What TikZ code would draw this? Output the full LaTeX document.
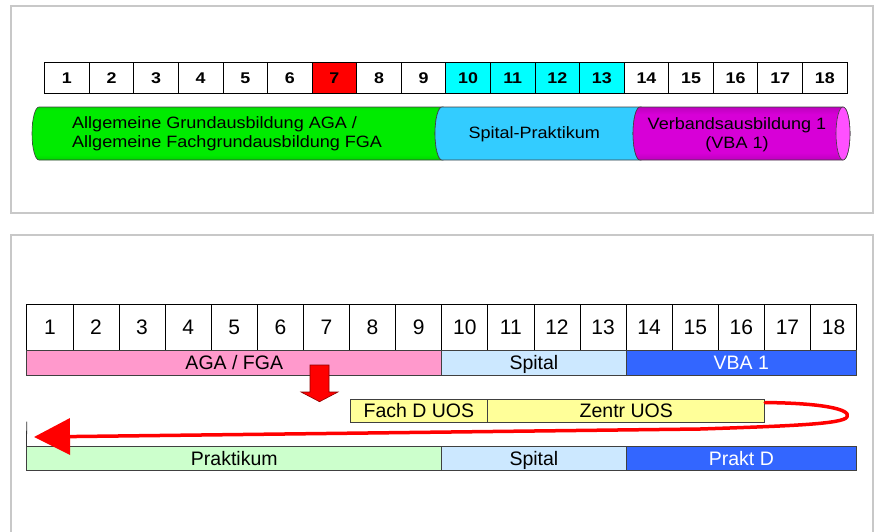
\documentclass[tikz,border=0pt]{standalone}
\usepackage{fontspec}
\setmainfont{Liberation Sans}
\newfontfamily\topnumfont[FakeStretch=1.15]{Liberation Sans}
\newfontfamily\cylfont[FakeStretch=1.1]{Liberation Sans}
\usetikzlibrary{arrows.meta}
\definecolor{panelgray}{RGB}{200,200,200}
\definecolor{cellcyan}{RGB}{0,255,255}
\definecolor{cellred}{RGB}{255,0,0}
\definecolor{cylgreen}{RGB}{0,235,0}
\definecolor{cylgreendark}{RGB}{0,90,0}
\definecolor{cylcyan}{RGB}{51,204,255}
\definecolor{cylmag}{RGB}{215,0,215}
\definecolor{cylmagdark}{RGB}{100,0,100}
\definecolor{cylmagface}{RGB}{255,80,255}
\definecolor{barpink}{RGB}{255,153,204}
\definecolor{barlightblue}{RGB}{204,232,255}
\definecolor{barblue}{RGB}{51,102,255}
\definecolor{barlightgreen}{RGB}{204,255,204}
\definecolor{baryellow}{RGB}{255,255,153}
\definecolor{arrowred}{RGB}{255,0,0}
\pgfdeclareverticalshading{greencyl}{100bp}{color(0bp)=(cylgreendark); color(30bp)=(cylgreen);
  color(72bp)=(cylgreen); color(100bp)=(cylgreendark)}
\pgfdeclareverticalshading{magcyl}{100bp}{color(0bp)=(cylmagdark); color(32bp)=(cylmag);
  color(68bp)=(cylmag); color(100bp)=(cylmagdark)}
\tikzset{
  panel/.style={draw=panelgray, line width=2pt},
  topcell/.style={draw=black, line width=0.8pt, minimum width=44.58pt, minimum height=31pt,
    inner sep=0pt, text height=11pt, text depth=0pt,
    font=\topnumfont\bfseries\fontsize{15.5}{15.5}\selectfont},
  botcell/.style={draw=black, line width=0.8pt, fill=white, minimum width=46.1pt, minimum height=46.7pt,
    inner sep=0pt, text height=15pt, text depth=0pt, font=\fontsize{21}{21}\selectfont},
  bar/.style={draw=black!75, line width=0.8pt, minimum height=24.3pt,
    inner sep=0pt, text height=14pt, text depth=0pt, font=\fontsize{19.5}{19.5}\selectfont},
  cylseg/.style={draw=black!75, line width=0.6pt},
  cyltext/.style={inner sep=0pt, font=\cylfont\fontsize{16.4}{19}\selectfont},
  bigred/.style={draw=arrowred, line width=3.5pt, line cap=round, line join=round,
    -{Triangle[length=36pt,width=36pt]}},
  blockarrow/.style={fill=arrowred, draw=red!55!black, line width=0.6pt, line join=miter}
}
\begin{document}
\begin{tikzpicture}[x=1pt,y=1pt]
\useasboundingbox (0,0) rectangle (874,-531);
% panels
\draw[panel] (10.5,-5.5) rectangle (872.5,-212.5);
\draw[panel] (10.5,-533) -- (10.5,-235) -- (872.5,-235) -- (872.5,-533);

% top number row
\foreach \i/\c in {1/white,2/white,3/white,4/white,5/white,6/white,7/cellred,8/white,9/white,
  10/cellcyan,11/cellcyan,12/cellcyan,13/cellcyan,14/white,15/white,16/white,17/white,18/white}{
  \node[topcell, fill=\c] (t\i) at ({44.6+44.58*(\i-0.5)},-77.8) {\i};
}

% cylinder
\shadedraw[cylseg, shading=greencyl]
  (39,-107) arc[start angle=90,end angle=270,x radius=7pt,y radius=26.5pt]
  -- (442,-160) arc[start angle=270,end angle=90,x radius=7pt,y radius=26.5pt] -- cycle;
\filldraw[cylseg, fill=cylcyan]
  (442,-107) arc[start angle=90,end angle=270,x radius=7pt,y radius=26.5pt]
  -- (640,-160) arc[start angle=270,end angle=90,x radius=7pt,y radius=26.5pt] -- cycle;
\shadedraw[cylseg, shading=magcyl]
  (640,-107) arc[start angle=90,end angle=270,x radius=7pt,y radius=26.5pt]
  -- (843,-160) arc[start angle=270,end angle=450,x radius=7pt,y radius=26.5pt] -- cycle;
\filldraw[cylseg, fill=cylmagface] (843,-133.5) ellipse[x radius=7pt,y radius=26.5pt];

\node[cyltext, align=left, anchor=west] (aga) at (72,-133.5)
  {Allgemeine Grundausbildung AGA /\\Allgemeine Fachgrundausbildung FGA};
\node[cyltext, anchor=base] (spp) at (534.2,-138) {Spital-Praktikum};
\node[cyltext, align=center] (vba) at (737,-134.5) {Verbandsausbildung 1\\(VBA 1)};

% bottom number row
\foreach \i in {1,...,18}{
  \node[botcell] (b\i) at ({26.8+46.1*(\i-0.5)},-327.4) {\i};
}

% bars row 1
\node[bar, fill=barpink, minimum width=414.9pt] (bagaf) at (234.25,-362.85) {AGA / FGA};
\node[bar, fill=barlightblue, minimum width=184.4pt] (bspit) at (533.9,-362.85) {Spital};
\node[bar, fill=barblue, text=white, minimum width=230.5pt] (bvba) at (741.35,-362.85) {VBA 1};

% red block arrow
\filldraw[blockarrow] (310,-365) -- (329,-365) -- (329,-392) -- (338,-392) -- (319.5,-401.7)
  -- (301,-392) -- (310,-392) -- cycle;

% UOS boxes
\node[bar, fill=baryellow, minimum width=137.7pt, minimum height=23.7pt] (fach) at (418.85,-410.85) {Fach D UOS};
\node[bar, fill=baryellow, minimum width=277.1pt, minimum height=23.7pt] (zentr) at (626.25,-410.85) {Zentr UOS};

% bars row 2
\node[bar, fill=barlightgreen, minimum width=414.9pt, minimum height=23.3pt] (prak) at (234.25,-458.35) {Praktikum};
\node[bar, fill=barlightblue, minimum width=184.4pt, minimum height=23.3pt] (bspit2) at (533.9,-458.35) {Spital};
\node[bar, fill=barblue, text=white, minimum width=230.5pt, minimum height=23.3pt] (prakd) at (741.35,-458.35) {Prakt D};

% left vertical line
\coordinate (vtop) at (26.8,-421.7);
\draw[black!80, line width=0.8pt] (vtop) -- (prak.north west);

% big red return arrow
\coordinate (arrtip) at (34,-437);
\draw[bigred] ([yshift=8.3pt]zentr.east) .. controls (820,-403) and (852,-409) .. (847,-417)
  .. controls (843,-424) and (790,-426) .. (700,-429) -- (arrtip);
\end{tikzpicture}
\end{document}
